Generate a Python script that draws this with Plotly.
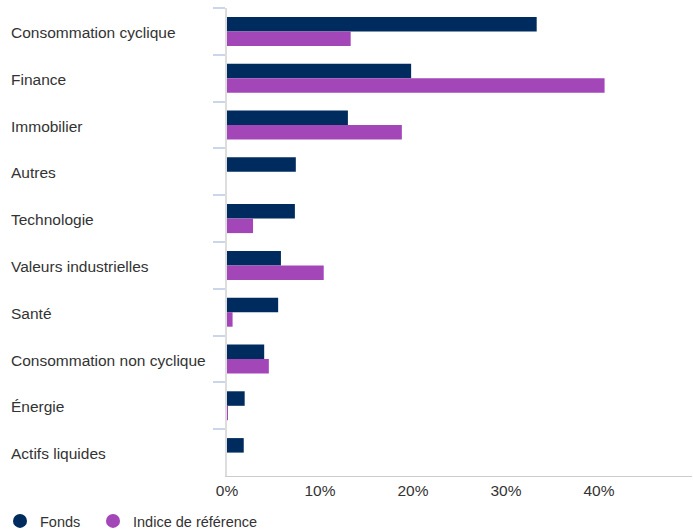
import plotly.graph_objects as go

categories = ["Consommation cyclique", "Finance", "Immobilier", "Autres", "Technologie",
              "Valeurs industrielles", "Santé", "Consommation non cyclique", "Énergie",
              "Actifs liquides"]
fonds = [33.3, 19.8, 13.0, 7.4, 7.3, 5.8, 5.5, 4.0, 1.9, 1.8]
indice = [13.3, 40.6, 18.8, 0.0, 2.8, 10.4, 0.6, 4.5, 0.1, 0.0]
tick_vals = [0, 10, 20, 30, 40]
tick_text = ["0%", "10%", "20%", "30%", "40%"]

C_FONDS = "#002b5e"
C_IND = "#a346b8"

W, H = 693, 529
ML, MR, MT, MB = 227, 1, 8, 53
PW = W - ML - MR
PH = H - MT - MB

FONT = "Liberation Sans, Arial, sans-serif"

fig = go.Figure()
fig.add_trace(go.Bar(y=categories, x=fonds, orientation="h", name="Fonds",
                     marker=dict(color=C_FONDS, line=dict(width=0)), showlegend=False))
fig.add_trace(go.Bar(y=categories, x=indice, orientation="h", name="Indice de référence",
                     marker=dict(color=C_IND, line=dict(width=0)), showlegend=False))
# legend entries with circle markers
fig.add_trace(go.Scatter(x=[None], y=[None], mode="markers", name="Fonds", legend="legend",
                         marker=dict(color=C_FONDS, size=14, symbol="circle")))
fig.add_trace(go.Scatter(x=[None], y=[None], mode="markers", name="Indice de référence",
                         legend="legend2",
                         marker=dict(color=C_IND, size=14, symbol="circle")))

for c in categories:
    fig.add_annotation(x=(9 - ML) / PW, xref="paper", y=c, yref="y", yshift=-1, text=c,
                       showarrow=False, xanchor="left", yanchor="middle",
                       font=dict(family=FONT, size=15.5, color="#333333"))

leg_common = dict(orientation="h", xanchor="left", y=(476 - 521) / PH, yanchor="middle",
                  font=dict(size=14.5, color="#333333"), itemwidth=30,
                  bgcolor="rgba(0,0,0,0)")

fig.update_layout(
    width=W, height=H,
    margin=dict(l=ML, r=MR, t=MT, b=MB, autoexpand=False),
    paper_bgcolor="white", plot_bgcolor="white",
    barmode="group", bargap=0.38, bargroupgap=0,
    font=dict(family=FONT, size=15.5, color="#333333"),
    showlegend=True,
    legend=dict(x=(0 - ML) / PW, **leg_common),
    legend2=dict(x=(93 - ML) / PW, **leg_common),
    xaxis=dict(range=[0, 50], tickvals=tick_vals, ticktext=tick_text, showgrid=False,
               zeroline=False, showline=True, linecolor="#cccccc", linewidth=1,
               ticks="", tickfont=dict(size=15.5, color="#333333")),
    yaxis=dict(autorange="reversed", showticklabels=False, ticks="outside",
               tickson="boundaries", ticklen=12, tickcolor="#ccd6eb", tickwidth=1.5,
               showgrid=False, zeroline=False, showline=True, linecolor="#dddddd", linewidth=2),
)

fig.write_html("out.html", config={"displayModeBar": False},
               post_script="document.body.style.margin='0';document.body.style.overflow='hidden';")
